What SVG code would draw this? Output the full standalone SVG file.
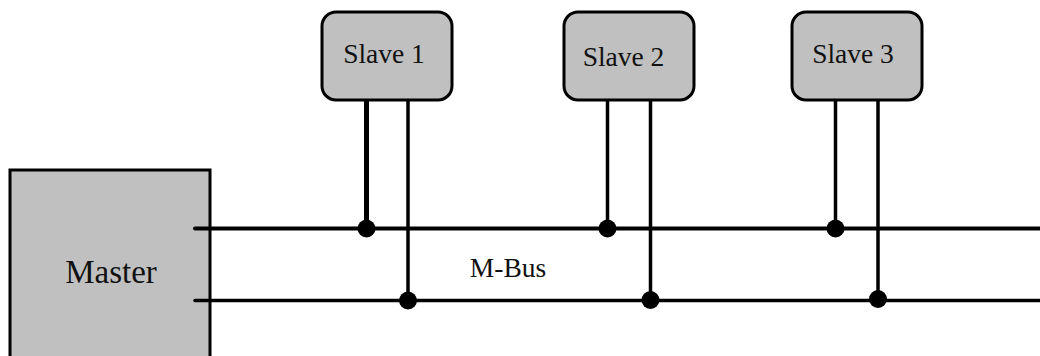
<svg xmlns="http://www.w3.org/2000/svg" width="1040" height="356" viewBox="0 0 1040 356">
<style>
.n{fill:#c0c0c0;stroke:#000;stroke-width:3}
.t{font-family:"Liberation Serif","Times New Roman",serif;fill:#111;text-anchor:middle}
.w{fill:none;stroke:#000;stroke-width:3.500}
.h{fill:none;stroke:#000;stroke-width:4;stroke-linecap:round}
.d{fill:#000}
</style>
<rect width="1040" height="356" fill="#fff"/>
<g id="master"><path class="n" d="M10 357V170H210V357"/><text class="t" x="111" y="283" font-size="33">Master</text></g>
<g id="slave1"><rect class="n" x="322" y="12" width="130" height="88" rx="14"/><text class="t" x="384" y="63" font-size="27.500">Slave 1</text></g>
<g id="slave2"><rect class="n" x="564" y="12" width="130" height="88" rx="14"/><text class="t" x="623.500" y="66" font-size="27.500">Slave 2</text></g>
<g id="slave3"><rect class="n" x="792" y="12" width="130" height="88" rx="14"/><text class="t" x="853" y="63" font-size="27.500">Slave 3</text></g>
<text id="label" class="t" x="508" y="277" font-size="27.500">M-Bus</text>
<g id="connectors">
<path class="h" d="M195 228.500H1042"/>
<path class="w" d="M195 300.500H1042" stroke-linecap="round"/>
<path class="h" stroke-linecap="butt" stroke-width="5" style="stroke-width:5;stroke-linecap:butt" d="M366.500 99V229"/>
<path class="w" d="M408 99V300M607.500 99V229M650.500 99V300M835.500 99V229M878 99V300"/>
<circle class="d" cx="366.500" cy="228.500" r="9"/><circle class="d" cx="408" cy="300.500" r="9"/>
<circle class="d" cx="607.500" cy="228.500" r="9"/><circle class="d" cx="650.500" cy="300" r="9"/>
<circle class="d" cx="835.500" cy="228.500" r="9"/><circle class="d" cx="878" cy="299" r="9"/>
</g>
</svg>
